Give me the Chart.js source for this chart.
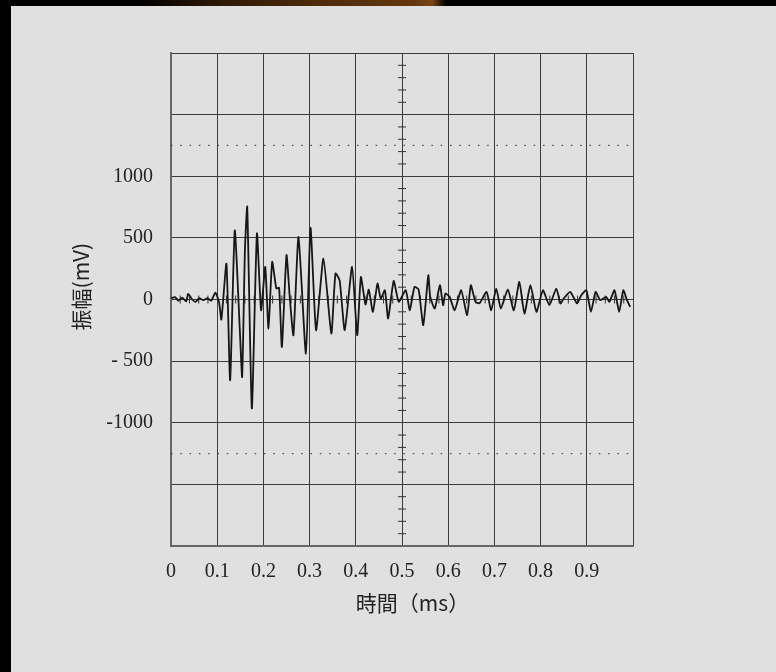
<!DOCTYPE html>
<html>
<head>
<meta charset="utf-8">
<script src="https://cdn.jsdelivr.net/npm/chart.js@4.4.1/dist/chart.umd.min.js"></script>
<style>
    html, body { margin: 0; padding: 0; width: 776px; height: 672px; background: #000; overflow: hidden; }
    #topStrip {
        position: absolute; left: 0; top: 0; width: 776px; height: 6px;
        background: linear-gradient(90deg, #000 0, #000 140px, #2e1806 220px, #4e2b0c 320px, #64380f 415px, #7a4616 432px, #000 446px, #000 776px);
    }
    #panel { position: absolute; left: 11px; top: 6px; width: 765px; height: 666px; background: #e0e0e0; }
    #wrap { position: absolute; left: 0; top: 0; width: 776px; height: 672px; }
</style>
</head>
<body>
<div id="topStrip"></div>
<div id="panel"></div>
<div id="wrap"><canvas id="waveChart" width="776" height="672"></canvas></div>
<script>
// waveform: time (ms) and amplitude (mV)
const timeMs = [0.000, 0.009, 0.016, 0.024, 0.033, 0.037, 0.046, 0.053, 0.061, 0.070, 0.079, 0.087, 0.096,
    0.104, 0.109, 0.120, 0.128, 0.138, 0.149, 0.154, 0.160, 0.165, 0.175, 0.186, 0.195, 0.204, 0.211, 0.219,
    0.228, 0.234, 0.240, 0.250, 0.257, 0.265, 0.276, 0.292, 0.302, 0.314, 0.330, 0.347, 0.356, 0.365, 0.376,
    0.392, 0.403, 0.411, 0.421, 0.428, 0.437, 0.447, 0.454, 0.463, 0.470, 0.482, 0.493, 0.508, 0.517, 0.527,
    0.536, 0.546, 0.557, 0.561, 0.571, 0.582, 0.589, 0.594, 0.603, 0.614, 0.628, 0.641, 0.649, 0.659, 0.668,
    0.683, 0.693, 0.704, 0.714, 0.729, 0.742, 0.754, 0.765, 0.778, 0.791, 0.805, 0.819, 0.834, 0.843, 0.850,
    0.864, 0.879, 0.888, 0.899, 0.909, 0.919, 0.929, 0.942, 0.949, 0.960, 0.970, 0.979, 0.987, 0.994];
const amplitudeMv = [10, 20, -10, 15, -15, 45, 0, -20, 10, -5, 10, -10, 55,
    -20, -162, 290, -655, 560, -250, -628, 400, 751, -884, 535, -87, 265, -235, 305,
    90, 95, -385, 360, 20, -290, 508, -438, 581, -249, 332, -276, 211, 156, -249,
    265, -290, 183, -40, 80, -100, 130, 8, 75, -154, 150, -19, 75, -87, 102,
    80, -208, 197, 22, -73, 116, -46, 49, 22, -87, 75, -127, 116, -19, -30,
    62, -87, 89, -73, 81, -87, 143, -114, 116, -100, 75, -46, 89, -32, 8,
    62, -32, 35, 75, -100, 62, -5, 22, -19, 75, -100, 75, -5, -60];

// axis labels
const xTickLabels = ['0', '0.1', '0.2', '0.3', '0.4', '0.5', '0.6', '0.7', '0.8', '0.9'];
const yTickValues = [-1000, -500, 0, 500, 1000];
const yTickLabels = ['-1000', '- 500', '0', '500', '1000'];

// dotted reference levels (mV)
const dottedLevels = [1250, -1250];

// small tick marks on the centre axes
const vAxisMinorTicks = [-1900, -1800, -1700, -1600, -1400, -1300, -1200, -1100, -900, -800, -700, -600,
    -400, -300, -200, -100, 100, 200, 300, 400, 600, 700, 800, 900,
    1100, 1200, 1300, 1400, 1600, 1700, 1800, 1900];
const hAxisMinorTicks = [0.02, 0.04, 0.06, 0.08, 0.12, 0.14, 0.16, 0.18, 0.22, 0.24, 0.26, 0.28,
    0.32, 0.34, 0.36, 0.38, 0.42, 0.44, 0.46, 0.48, 0.52, 0.54, 0.56, 0.58,
    0.62, 0.64, 0.66, 0.68, 0.72, 0.74, 0.76, 0.78, 0.82, 0.84, 0.86, 0.88,
    0.92, 0.94, 0.96, 0.98];

const serif = '"Liberation Serif", "DejaVu Serif", serif';
const cjk = '"Noto Sans CJK TC", "Noto Sans CJK JP", sans-serif';

const datasets = [];

datasets.push({
    label: 'signal',
    data: timeMs.map((t, i) => ({ x: t, y: amplitudeMv[i] })),
    borderColor: '#161616',
    borderWidth: 1.8,
    pointRadius: 0,
    tension: 0.18,
    order: 0
});

dottedLevels.forEach(level => {
    datasets.push({
        label: 'level ' + level,
        data: [{ x: 0, y: level }, { x: 1, y: level }],
        borderColor: '#4a4a4a',
        borderWidth: 1.3,
        borderDash: [1.5, 7.8],
        pointRadius: 0,
        order: 2
    });
});

datasets.push({
    label: 'v ticks',
    data: vAxisMinorTicks.map(v => ({ x: 0.5, y: v })),
    showLine: false,
    pointStyle: 'line',
    pointRadius: 4,
    pointBorderColor: '#333',
    pointBorderWidth: 1,
    order: 3
});

datasets.push({
    label: 'h ticks',
    data: hAxisMinorTicks.map(t => ({ x: t, y: 0 })),
    showLine: false,
    pointStyle: 'line',
    pointRotation: 90,
    pointRadius: 4,
    pointBorderColor: '#333',
    pointBorderWidth: 1,
    order: 3
});

const ctx = document.getElementById('waveChart').getContext('2d');
const chart = new Chart(ctx, {
    type: 'line',
    data: { datasets: datasets },
    options: {
        responsive: false,
        animation: false,
        events: [],
        layout: { padding: { left: 0, top: 53, right: 143, bottom: 0 } },
        plugins: {
            legend: { display: false },
            tooltip: { enabled: false }
        },
        scales: {
            x: {
                type: 'linear',
                min: 0,
                max: 1,
                afterFit: scale => { scale.height = 126; },
                ticks: {
                    stepSize: 0.1,
                    padding: 14,
                    maxRotation: 0,
                    autoSkip: false,
                    color: '#222',
                    font: { family: serif, size: 20 },
                    callback: value => xTickLabels[Math.round(value * 10)] || ''
                },
                grid: { color: '#3c3c3c', lineWidth: 1, drawTicks: false },
                border: { color: '#666', width: 2 },
                title: {
                    display: true,
                    text: '\u3000時間（ms）',
                    color: '#222',
                    font: { family: cjk, size: 21 },
                    padding: { top: 0, bottom: 56 }
                }
            },
            y: {
                type: 'linear',
                min: -2000,
                max: 2000,
                afterFit: scale => { scale.width = 171; },
                ticks: {
                    stepSize: 500,
                    padding: 18,
                    autoSkip: false,
                    color: '#222',
                    font: { family: serif, size: 20 },
                    callback: value => {
                        const i = yTickValues.indexOf(value);
                        return i >= 0 ? yTickLabels[i] : '';
                    }
                },
                grid: { color: '#3c3c3c', lineWidth: 1, drawTicks: false },
                border: { color: '#666', width: 2 },
                title: {
                    display: true,
                    text: '\u3000 振幅(mV)',
                    color: '#222',
                    font: { family: cjk, size: 21 },
                    padding: { top: 68, bottom: 0 }
                }
            }
        }
    }
});
</script>
</body>
</html>
